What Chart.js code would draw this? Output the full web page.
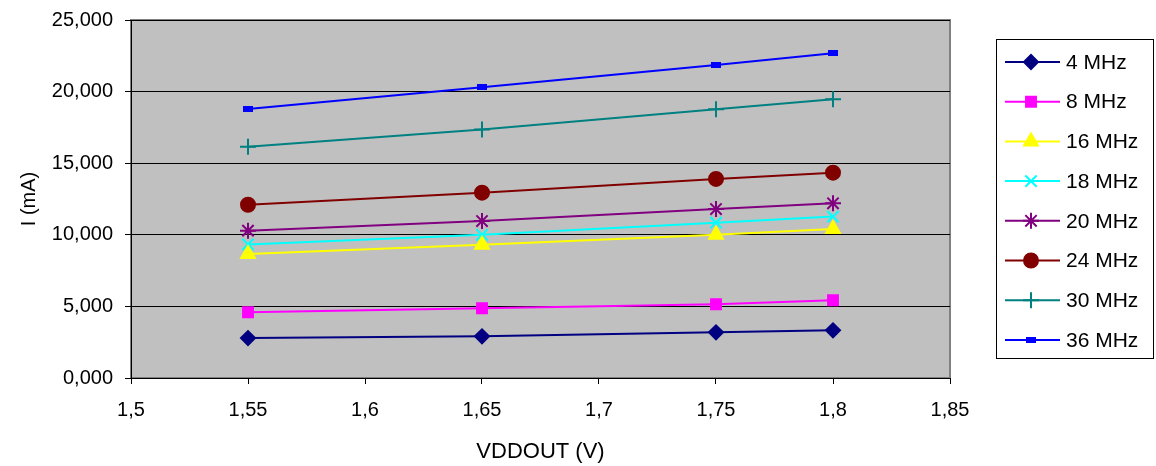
<!DOCTYPE html>
<html>
<head>
<meta charset="utf-8">
<script src="https://cdn.jsdelivr.net/npm/chart.js@4"></script>
<style>
  body { margin: 0; background: #fff; }
  #wrap { width: 1156px; height: 466px; }
</style>
</head>
<body>
<div id="wrap"><canvas id="chart" width="1156" height="466"></canvas></div>
<script>
// VDDOUT values (V)
const vddout = [1.55, 1.65, 1.75, 1.8];

// current per clock frequency
const seriesNames = ['4 MHz', '8 MHz', '16 MHz', '18 MHz', '20 MHz', '24 MHz', '30 MHz', '36 MHz'];
const i4MHz = [2790, 2910, 3190, 3330];
const i8MHz = [4590, 4870, 5150, 5430];
const i16MHz = [8660, 9310, 10000, 10400];
const i18MHz = [9330, 10000, 10850, 11270];
const i20MHz = [10290, 10960, 11800, 12200];
const i24MHz = [12100, 12940, 13900, 14340];
const i30MHz = [16150, 17360, 18760, 19460];
const i36MHz = [18780, 20300, 21860, 22670];

const xTicks = [1.5, 1.55, 1.6, 1.65, 1.7, 1.75, 1.8, 1.85];
const yTicks = [0, 5000, 10000, 15000, 20000, 25000];

const FONT = 'Liberation Sans, Arial, sans-serif';

// small flat blue marker used by Excel for the 36 MHz series
const smallRect = document.createElement('canvas');
smallRect.width = 10; smallRect.height = 6;
(function () {
  const c = smallRect.getContext('2d');
  c.fillStyle = '#0000FF';
  c.fillRect(0, 0, 10, 6);
})();

const styles = [
  { color: '#000080', point: 'rectRot', radius: 7 },
  { color: '#FF00FF', point: 'rect', radius: 7 },
  { color: '#FFFF00', point: 'triangle', radius: 8 },
  { color: '#00FFFF', point: 'crossRot', radius: 8 },
  { color: '#800080', point: 'star', radius: 8 },
  { color: '#800000', point: 'circle', radius: 7 },
  { color: '#008080', point: 'cross', radius: 8 },
  { color: '#0000FF', point: smallRect, radius: 5 }
];

const values = [i4MHz, i8MHz, i16MHz, i18MHz, i20MHz, i24MHz, i30MHz, i36MHz];

const datasets = values.map((vals, k) => ({
  label: seriesNames[k],
  data: vals.map((v, j) => ({ x: vddout[j], y: v })),
  showLine: true,
  borderColor: styles[k].color,
  backgroundColor: styles[k].color,
  borderWidth: 2,
  pointStyle: styles[k].point,
  pointRadius: styles[k].radius,
  pointHoverRadius: styles[k].radius,
  pointBorderColor: styles[k].color,
  pointBackgroundColor: styles[k].color,
  pointBorderWidth: 2
}));

// gray plot area with a thin border
const plotBackground = {
  id: 'plotBackground',
  beforeDraw(chart) {
    const { ctx, chartArea: a } = chart;
    ctx.save();
    ctx.fillStyle = '#C0C0C0';
    ctx.fillRect(a.left, a.top, a.right - a.left, a.bottom - a.top);
    ctx.strokeStyle = '#808080';
    ctx.lineWidth = 2;
    ctx.strokeRect(a.left, a.top, a.right - a.left, a.bottom - a.top);
    ctx.restore();
  }
};

// Excel style legend box on the right, line + marker per series
const boxLegend = {
  id: 'boxLegend',
  afterDraw(chart) {
    const { ctx } = chart;
    const left = 996, top = 39, right = 1153, bottom = 358;
    ctx.save();
    ctx.fillStyle = '#fff';
    ctx.fillRect(left, top, right - left, bottom - top);
    ctx.strokeStyle = '#000';
    ctx.lineWidth = 1;
    ctx.strokeRect(left + 0.5, top + 0.5, right - left, bottom - top);
    chart.data.datasets.forEach((ds, k) => {
      const y = 62 + k * 39.7;
      ctx.strokeStyle = ds.borderColor;
      ctx.lineWidth = 2;
      ctx.beginPath();
      ctx.moveTo(1005, y);
      ctx.lineTo(1060, y);
      ctx.stroke();
      ctx.fillStyle = ds.borderColor;
      Chart.helpers.drawPoint(ctx, {
        pointStyle: ds.pointStyle,
        radius: ds.pointRadius,
        borderWidth: 2,
        rotation: 0
      }, 1031, y);
      ctx.fillStyle = '#000';
      ctx.font = '21px ' + FONT;
      ctx.textBaseline = 'middle';
      ctx.textAlign = 'left';
      ctx.fillText(ds.label, 1066, y + 1);
    });
    ctx.restore();
  }
};

new Chart(document.getElementById('chart'), {
  type: 'scatter',
  data: { datasets },
  options: {
    responsive: false,
    animation: false,
    layout: { padding: { left: 0, top: 20, right: 206, bottom: 0 } },
    plugins: {
      legend: { display: false },
      tooltip: { enabled: false }
    },
    scales: {
      x: {
        type: 'linear',
        min: 1.5,
        max: 1.85,
        afterBuildTicks(scale) { scale.ticks = xTicks.map(v => ({ value: v })); },
        afterFit(scale) { scale.height = 88; scale.paddingLeft = 0; scale.paddingRight = 0; },
        ticks: {
          color: '#000',
          font: { family: FONT, size: 20 },
          padding: 14,
          maxRotation: 0,
          callback: v => String(Number(v.toFixed(2))).replace('.', ',')
        },
        grid: { drawOnChartArea: false, drawTicks: true, tickLength: 6, color: '#000' },
        border: { color: '#000', width: 1 },
        title: {
          display: true,
          text: 'VDDOUT (V)',
          color: '#000',
          font: { family: FONT, size: 22 },
          padding: { top: 0, bottom: 1 }
        }
      },
      y: {
        min: 0,
        max: 25000,
        afterBuildTicks(scale) { scale.ticks = yTicks.map(v => ({ value: v })); },
        afterFit(scale) { scale.width = 131; scale.paddingTop = 0; scale.paddingBottom = 0; },
        ticks: {
          color: '#000',
          font: { family: FONT, size: 20 },
          padding: 12,
          callback: v => (v / 1000).toFixed(3).replace('.', ',')
        },
        grid: { color: '#000', lineWidth: 1, drawTicks: true, tickLength: 6 },
        border: { color: '#000', width: 1 },
        title: {
          display: true,
          text: 'I (mA)',
          color: '#000',
          font: { family: FONT, size: 20 },
          padding: { top: 17, bottom: 0 }
        }
      }
    }
  },
  plugins: [plotBackground, boxLegend]
});
</script>
</body>
</html>
